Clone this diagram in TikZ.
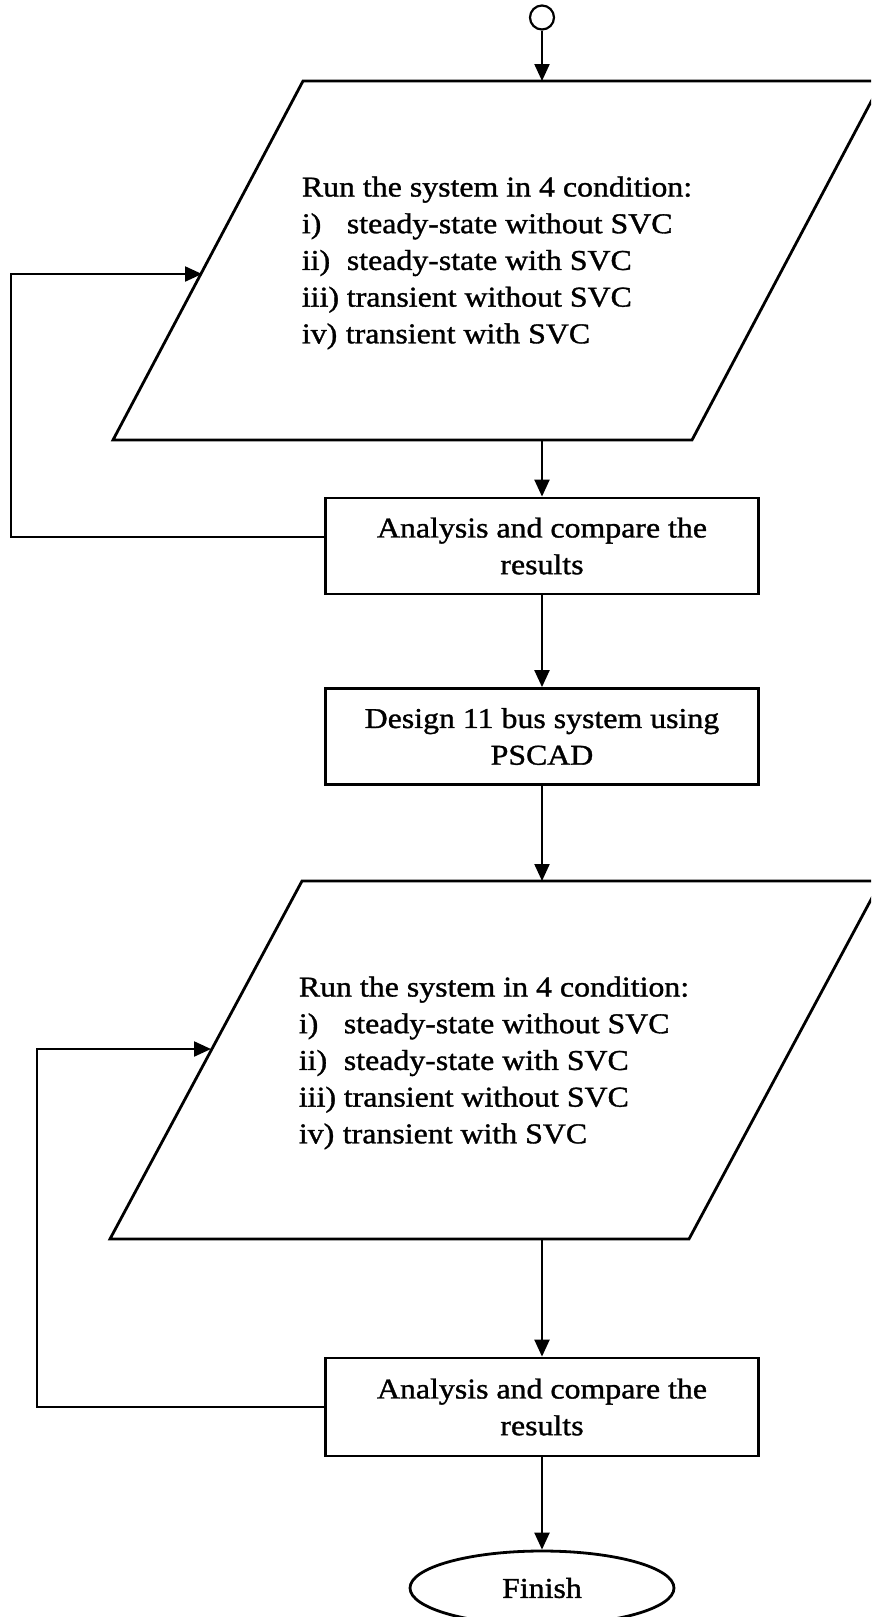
\documentclass[tikz,border=0pt]{standalone}
\usepackage{fontspec}
\setmainfont[FakeStretch=1.11,FakeBold=1.2]{Liberation Serif}
\usetikzlibrary{arrows.meta,shapes.geometric}
\begin{document}
\begin{tikzpicture}[x=1pt,y=-1pt,line join=miter,
  outline/.style={line width=2.8pt},
  conn/.style={line width=2.2pt,-{Triangle[length=17pt,width=15pt]}},
  txt/.style={font=\fontsize{28.7}{36.7}\selectfont, inner sep=0pt, align=left},
  procbox/.style={draw, line width=2.8pt, minimum width=433pt, minimum height=96pt,
    align=center, inner sep=0pt, font=\fontsize{28.7}{36.7}\selectfont}]
\clip (0,0) rectangle (871,1617);
\fill[white] (0,0) rectangle (871,1617);

% start
\node[circle, draw, line width=2.2pt, minimum size=24pt, inner sep=0pt] (s) at (542,17.5) {};

% parallelogram 1
\coordinate (p1tl) at (303,81);  \coordinate (p1tr) at (882,81);
\coordinate (p1br) at (692,440); \coordinate (p1bl) at (113,440);
\draw[outline] (p1tl) -- (p1tr) -- (p1br) -- (p1bl) -- cycle;
\coordinate (p1top) at (542,81); \coordinate (p1bot) at (542,440);
\coordinate (p1in) at (202,274);
\node[txt] (t1) at (497,263) {Run the system in 4 condition:\\
\makebox[45pt][l]{i)}steady-state without SVC\\
\makebox[45pt][l]{ii)}steady-state with SVC\\
\makebox[45pt][l]{iii)}transient without SVC\\
\makebox[44pt][l]{iv)}transient with SVC};

% boxes
\node[procbox] (b1) at (542,546) {Analysis and compare the\\results};
\node[procbox] (b2) at (542,736.5) {Design 11 bus system using\\PSCAD};

% parallelogram 2
\coordinate (p2tl) at (302,881);  \coordinate (p2tr) at (881,881);
\coordinate (p2br) at (689,1239); \coordinate (p2bl) at (110,1239);
\draw[outline] (p2tl) -- (p2tr) -- (p2br) -- (p2bl) -- cycle;
\coordinate (p2top) at (542,881); \coordinate (p2bot) at (542,1239);
\coordinate (p2in) at (211,1049);
\node[txt] (t2) at (494,1063) {Run the system in 4 condition:\\
\makebox[45pt][l]{i)}steady-state without SVC\\
\makebox[45pt][l]{ii)}steady-state with SVC\\
\makebox[45pt][l]{iii)}transient without SVC\\
\makebox[44pt][l]{iv)}transient with SVC};

\node[procbox, minimum height=98pt] (b3) at (542,1407) {Analysis and compare the\\results};

\node[ellipse, draw, line width=2.8pt, minimum width=264pt, minimum height=74pt,
  inner sep=0pt, font=\fontsize{28.7}{36.7}\selectfont] (f) at (542,1588) {Finish};

% connectors
\draw[conn] (s) -- (p1top);
\draw[conn] (p1bot) -- (b1);
\draw[conn] (b1) -- (b2);
\draw[conn] (b2) -- (p2top);
\draw[conn] (p2bot) -- (b3);
\draw[conn] (b3) -- (f);

\coordinate (c1) at (11,537);  \coordinate (c2) at (11,274);
\draw[conn] ([yshift=9pt]b1.west) -- (c1) -- (c2) -- (p1in);
\coordinate (c3) at (37,1407); \coordinate (c4) at (37,1049);
\draw[conn] (b3.west) -- (c3) -- (c4) -- (p2in);
\end{tikzpicture}
\end{document}
